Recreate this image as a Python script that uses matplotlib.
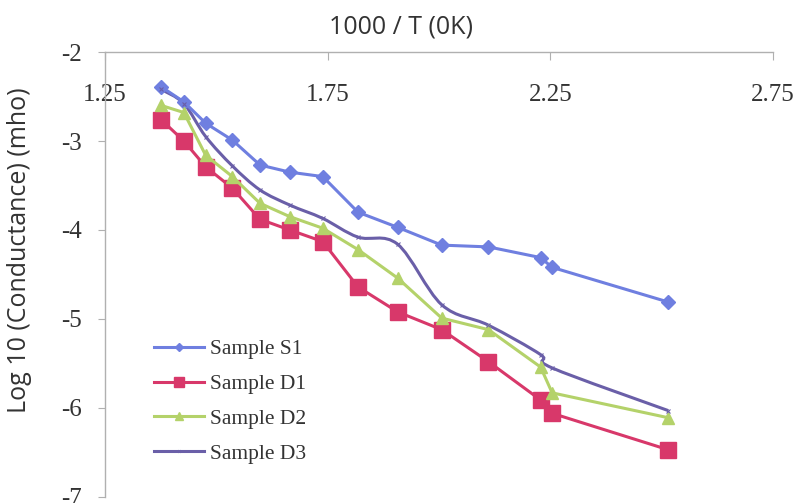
import numpy as np
import matplotlib
matplotlib.use("Agg")
import matplotlib.pyplot as plt
from matplotlib.path import Path
from matplotlib.patches import PathPatch

# 1000/T values and log10 conductance
inv_t = [1.376, 1.427, 1.476, 1.536, 1.598, 1.665, 1.739, 1.818, 1.907, 2.006, 2.111, 2.228, 2.254, 2.515]
s1 = [-2.39, -2.56, -2.80, -2.99, -3.27, -3.35, -3.40, -3.80, -3.97, -4.17, -4.19, -4.31, -4.42, -4.81]
d1 = [-2.76, -3.00, -3.29, -3.53, -3.88, -4.00, -4.13, -4.64, -4.92, -5.12, -5.48, -5.91, -6.06, -6.47]
d2 = [-2.60, -2.68, -3.16, -3.40, -3.70, -3.85, -3.98, -4.22, -4.54, -4.99, -5.12, -5.54, -5.83, -6.11]
d3 = [-2.42, -2.58, -2.95, -3.28, -3.55, -3.72, -3.87, -4.08, -4.16, -4.84, -5.07, -5.40, -5.55, -6.03]

x_ticks = [1.25, 1.75, 2.25, 2.75]
y_ticks = [-7, -6, -5, -4, -3, -2]

c_s1 = "#6f7fe0"
c_d1 = "#d8386a"
c_d2 = "#b4d26a"
c_d3 = "#6a5fa8"


def smooth_path(xs, ys):
    # excel style smoothed line: catmull-rom segments as cubic bezier
    pts = np.column_stack([xs, ys])
    verts = [pts[0]]
    codes = [Path.MOVETO]
    n = len(pts)
    for i in range(n - 1):
        p0 = pts[i - 1] if i > 0 else pts[i]
        p1 = pts[i]
        p2 = pts[i + 1]
        p3 = pts[i + 2] if i + 2 < n else pts[i + 1]
        verts += [p1 + (p2 - p0) / 6, p2 - (p3 - p1) / 6, p2]
        codes += [Path.CURVE4] * 3
    return Path(verts, codes)


fig = plt.figure(figsize=(8.01, 5.03), dpi=100)
ax = fig.add_axes([0.1311, 0.012, 0.834, 0.8846])

ax.plot(inv_t, s1, color=c_s1, lw=2.2, marker="D", ms=7, label="Sample S1")
ax.plot(inv_t, d1, color=c_d1, lw=2.2, marker="s", ms=11, label="Sample D1")
ax.plot(inv_t, d2, color=c_d2, lw=2.2, marker="^", ms=9, label="Sample D2")
ax.add_patch(PathPatch(smooth_path(inv_t, d3), fill=False, edgecolor=c_d3, lw=2.2))
ax.plot(inv_t, d3, color=c_d3, lw=0, marker="x", ms=3, mew=0.8)
ax.plot([], [], color=c_d3, lw=2.2, marker="x", ms=3, label="Sample D3")

ax.set_xlim(1.25, 2.75)
ax.set_ylim(-7, -2)
ax.set_xticks(x_ticks)
ax.set_xticklabels(["1.25", "1.75", "2.25", "2.75"])
ax.set_yticks(y_ticks)
ax.set_yticklabels([str(v) for v in y_ticks])

for side in ["right", "bottom"]:
    ax.spines[side].set_visible(False)
for side in ["left", "top"]:
    ax.spines[side].set_color("#b0b0b0")
    ax.spines[side].set_linewidth(1.0)

ax.tick_params(axis="x", top=True, bottom=False, labeltop=True, labelbottom=False,
               direction="in", length=6, color="#b0b0b0", pad=-39)
ax.tick_params(axis="y", direction="out", length=5, color="#b0b0b0", pad=12)
for lab in ax.get_xticklabels() + ax.get_yticklabels():
    lab.set_fontfamily("Liberation Serif")
    lab.set_fontsize(18)
    lab.set_color("#333333")

ax.set_title("1000 / T (0K)", fontfamily="Open Sans", fontsize=18, color="#333333",
             pad=13, x=0.443)
ax.set_ylabel("Log 10 (Conductance) (mho)", fontfamily="Open Sans", fontsize=18, color="#333333")
ax.yaxis.set_label_coords(-0.11, 0.555)

leg = ax.legend(loc="center left", bbox_to_anchor=(0.044, 0.2145), frameon=False,
                prop={"family": "Liberation Serif", "size": 15.5}, handlelength=2.32,
                handletextpad=0.3, labelspacing=0.68, markerscale=0.6)
for t in leg.get_texts():
    t.set_color("#333333")

fig.savefig("out.png", dpi=100)
